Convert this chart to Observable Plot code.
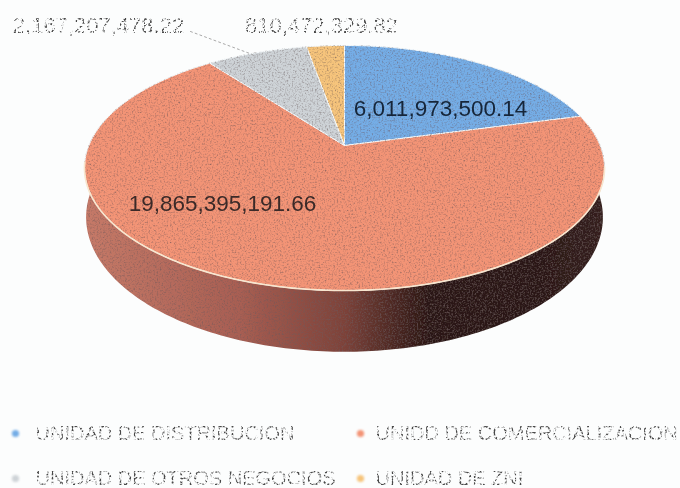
<!DOCTYPE html>
<html>
<head>
<meta charset="utf-8">
<script src="https://cdn.jsdelivr.net/npm/d3@7"></script>
<script src="https://cdn.jsdelivr.net/npm/@observablehq/plot@0.6"></script>
<style>
html,body{margin:0;padding:0;background:#fcfdfd;}
svg{display:block;}
</style>
</head>
<body>
<div id="chart"></div>
<script>
const categories = ["UNIDAD DE DISTRIBUCION", "UNIDD DE COMERCIALIZACION", "UNIDAD DE OTROS NEGOCIOS", "UNIDAD DE ZNI"];
const values = [6011973500.14, 19865395191.66, 2167207478.22, 810472329.82];
const valueLabels = ["6,011,973,500.14", "19,865,395,191.66", "2,167,207,478.22", "810,472,329.82"];
const colors = ["#74ade6", "#f39476", "#ced3d7", "#f6c47b"];
const wallStops = [[0, "#c67a68"], [0.3, "#a85e52"], [0.5, "#7d4239"], [0.66, "#2c1613"], [0.86, "#2a1614"], [1, "#35201e"]];

// Perspective projection of the pie's disc (angle clockwise from 12 o'clock)
const cx = 344, cy = 145, k = 0.1837;
const top3d = {B: 255.6, A: 118.4, dy: 0};
const bottom3d = {B: 254, A: 130, dy: 47};
function project(theta, r = 1, p = top3d) {
  const u = r * Math.sin(theta), v = -r * Math.cos(theta), w = 1 - k * v;
  return {x: cx + p.B * u / w, y: cy + p.dy + p.A * v / w};
}
const total = d3.sum(values);
const STEP = Math.PI / 180;
function arc(a0, a1, r, p) {
  const n = Math.max(2, Math.ceil(Math.abs(a1 - a0) / STEP));
  return d3.range(n + 1).map(i => project(a0 + (a1 - a0) * i / n, r, p));
}
let acc = 0;
const slicePoints = [];
categories.forEach((c, i) => {
  const a0 = acc / total * 2 * Math.PI;
  acc += values[i];
  const a1 = acc / total * 2 * Math.PI;
  const pts = [project(0, 0), ...arc(a0, a1), project(0, 0)];
  pts.forEach(q => slicePoints.push({...q, category: c}));
});
// Side wall: bottom-edge curve plus top rim reversed
const wallA = 80 * STEP, wallB = 280 * STEP;
const wallPoints = [...arc(wallA, wallB, 1, bottom3d), ...arc(wallB, wallA)];
const rimPoints = arc(100 * STEP, 262 * STEP);

const labels = [
  {t: valueLabels[0], x: 440, y: 108, fill: "#16263a"},
  {t: valueLabels[1], x: 222, y: 203, fill: "#3b2a28"},
  {t: valueLabels[2], x: 98, y: 25, fill: "#4a4a4a"},
  {t: valueLabels[3], x: 321, y: 25, fill: "#4a4a4a"}
];
const legendRows = [433, 433 + 45];
const legendCols = [{x: 15, dx: 20}, {x: 360, dx: 15}];
const legendItems = [
  {i: 0, c: 0, r: 0}, {i: 1, c: 1, r: 0}, {i: 2, c: 0, r: 1}, {i: 3, c: 1, r: 1}
].map(d => ({label: categories[d.i], color: colors[d.i], x: legendCols[d.c].x, tx: legendCols[d.c].x + legendCols[d.c].dx, y: legendRows[d.r]}));
const leader = [{x: 190, y: 31}, {x: 252, y: 54}];

const defs = () => {
  const s = d3.create("svg:defs");
  const g = s.append("linearGradient").attr("id", "wall").attr("gradientUnits", "userSpaceOnUse")
    .attr("x1", 84).attr("x2", 604).attr("y1", 0).attr("y2", 0);
  wallStops.forEach(([o, c]) => g.append("stop").attr("offset", o).attr("stop-color", c));
  const f = s.append("filter").attr("id", "speckle").attr("x", "-2%").attr("y", "-2%").attr("width", "104%").attr("height", "104%");
  f.append("feTurbulence").attr("type", "fractalNoise").attr("baseFrequency", 0.6).attr("numOctaves", 2).attr("seed", 4).attr("result", "n");
  f.append("feColorMatrix").attr("in", "n").attr("type", "matrix")
    .attr("values", "0 0 0 0 0.15  0 0 0 0 0.1  0 0 0 0 0.1  1.8 0 0 0 -0.85").attr("result", "d");
  f.append("feComposite").attr("in", "d").attr("in2", "SourceGraphic").attr("operator", "atop").attr("result", "c");
  f.append("feGaussianBlur").attr("in", "c").attr("stdDeviation", 0.35);
  const e = s.append("filter").attr("id", "erode").attr("x", "-2%").attr("y", "-10%").attr("width", "104%").attr("height", "120%");
  e.append("feTurbulence").attr("type", "fractalNoise").attr("baseFrequency", 0.5).attr("numOctaves", 2).attr("seed", 9).attr("result", "n");
  e.append("feColorMatrix").attr("in", "n").attr("type", "matrix")
    .attr("values", "0 0 0 0 0  0 0 0 0 0  0 0 0 0 0  6 0 0 0 -2.7").attr("result", "m");
  e.append("feComposite").attr("in", "SourceGraphic").attr("in2", "m").attr("operator", "in").attr("result", "c");
  e.append("feGaussianBlur").attr("in", "c").attr("stdDeviation", 0.4);
  return s.node();
};

const plot = Plot.plot({
  width: 680, height: 488,
  margin: 0,
  style: {background: "#fcfdfd", fontFamily: "'Liberation Sans', sans-serif"},
  x: {domain: [0, 680], range: [0, 680], axis: null},
  y: {domain: [0, 488], range: [0, 488], axis: null},
  color: {domain: categories, range: colors},
  marks: [
    defs,
    Plot.line(wallPoints, {x: "x", y: "y", fill: "url(#wall)", stroke: "none", curve: "linear", imageFilter: "url(#speckle)"}),
    Plot.line(slicePoints, {x: "x", y: "y", z: "category", fill: "category", stroke: "#f4f8fa", strokeWidth: 1, curve: "linear", imageFilter: "url(#speckle)"}),
    Plot.line(rimPoints, {x: "x", y: "y", stroke: "#f8e6cf", strokeWidth: 1.6, curve: "linear"}),
    Plot.line(leader, {x: "x", y: "y", stroke: "#a9a9a9", strokeWidth: 1, strokeDasharray: "2,3"}),
    Plot.text(labels.slice(0, 2), {x: "x", y: "y", text: "t", fill: "fill", fontSize: 22.5, imageFilter: "blur(0.5px)"}),
    Plot.text(labels.slice(2), {x: "x", y: "y", text: "t", fill: "fill", fontSize: 22, imageFilter: "url(#erode)"}),
    Plot.dot(legendItems, {x: "x", y: "y", r: 3.6, fill: "color", imageFilter: "blur(0.8px)"}),
    Plot.text(legendItems, {x: "tx", y: "y", text: "label", textAnchor: "start", fill: "#4a4a4a", fontSize: 20, imageFilter: "url(#erode)"})
  ]
});
document.getElementById("chart").append(plot);
</script>
</body>
</html>
